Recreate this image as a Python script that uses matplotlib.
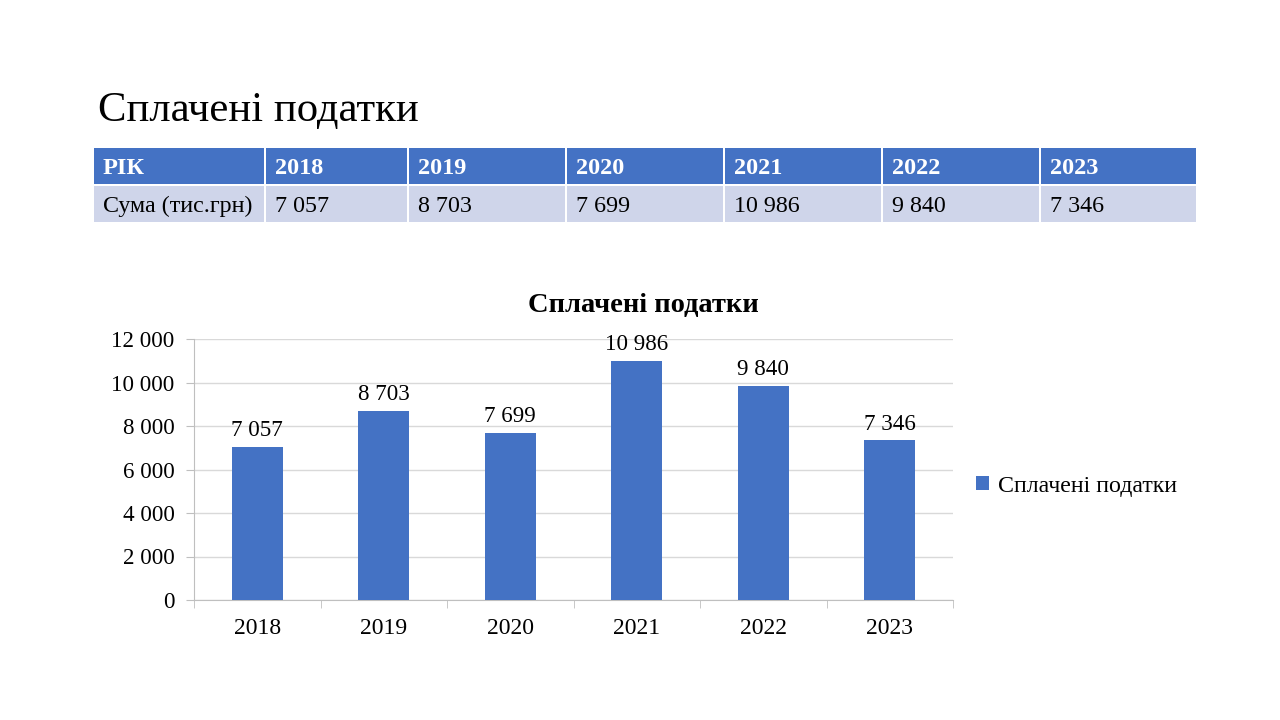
import matplotlib
import matplotlib.pyplot as plt
from matplotlib.patches import Rectangle
matplotlib.use('Agg')

plt.rcParams['font.family'] = ['Liberation Serif', 'DejaVu Serif']

# Дані
years = ['2018', '2019', '2020', '2021', '2022', '2023']
taxes = [7057, 8703, 7699, 10986, 9840, 7346]
title = 'Сплачені податки'
row_head = 'РІК'
row_label = 'Сума (тис.грн)'


def fmt(v):
    return f'{v:,.0f}'.replace(',', ' ')


fig = plt.figure(figsize=(12.8, 7.2), dpi=100)

# Заголовок слайда
fig.text(98 / 1280, 1 - 111 / 720, title, fontsize=30.8, va='center', ha='left')

# Таблиця
tab = fig.add_axes([0, 0, 1, 1])
tab.set_xlim(0, 1280)
tab.set_ylim(720, 0)
tab.axis('off')
col_edges = [93, 265, 408, 566, 724, 882, 1040, 1197]
rows = [(148, 184, '#4472C4'), (186, 222, '#CFD5EA')]
header = [row_head] + years
values = [row_label] + [fmt(v) for v in taxes]
for r, (y0, y1, color) in enumerate(rows):
    cells = header if r == 0 else values
    for i in range(len(col_edges) - 1):
        x0, x1 = col_edges[i] + 1, col_edges[i + 1] - 1
        tab.add_patch(Rectangle((x0, y0), x1 - x0, y1 - y0, color=color, lw=0))
        tab.text(x0 + 9, (y0 + y1) / 2 + 2.5, cells[i],
                 fontsize=17.5 if r == 0 else 17.3,
                 va='center', ha='left',
                 color='white' if r == 0 else 'black',
                 fontweight='bold' if r == 0 else 'normal')

# Діаграма
ax = fig.add_axes([194 / 1280, 1 - 600 / 720, (953 - 194) / 1280, (600 - 339) / 720])
x = range(len(years))
bars = ax.bar(x, taxes, width=0.4, color='#4472C4', label=title, zorder=3)
ax.bar_label(bars, labels=[fmt(v) for v in taxes], padding=4, fontsize=16.6)
ax.set_xlim(-0.5, len(years) - 0.5)
ax.set_ylim(0, 12000)
ax.set_yticks(range(0, 12001, 2000))
ax.set_yticklabels([fmt(v) for v in range(0, 12001, 2000)])
ax.set_xticks(list(x))
ax.set_xticklabels(years)
ax.set_xticks([i - 0.5 for i in range(len(years) + 1)], minor=True)
ax.tick_params(axis='x', which='major', length=0, pad=13, labelsize=17)
ax.tick_params(axis='x', which='minor', length=6, color='#BFBFBF')
ax.tick_params(axis='y', length=6, color='#BFBFBF', labelsize=16.6, pad=8)
ax.grid(axis='y', color='#D9D9D9', lw=1, zorder=0)
for side in ['top', 'right']:
    ax.spines[side].set_visible(False)
for side in ['left', 'bottom']:
    ax.spines[side].set_color('#BFBFBF')

fig.text(643 / 1280, 1 - 305 / 720, title, fontsize=20.5, fontweight='bold',
         ha='center', va='center')

fig.legend(loc='center left', bbox_to_anchor=(954 / 1280, 1 - 486 / 720),
           frameon=False, fontsize=17.2, handlelength=0.55, handleheight=0.55,
           handletextpad=0.4)

fig.savefig('out.png', dpi=100)
